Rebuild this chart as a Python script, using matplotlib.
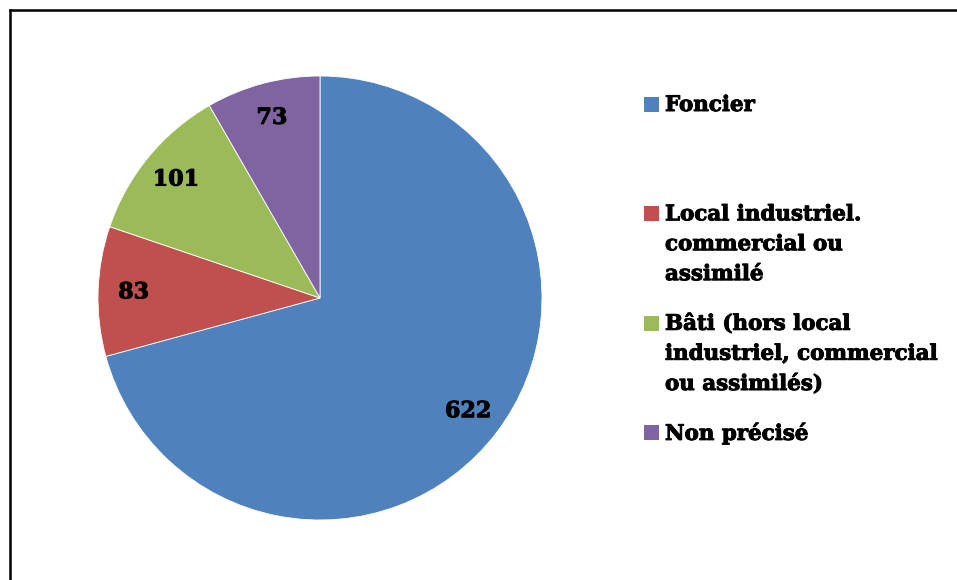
import matplotlib
matplotlib.use("Agg")
import matplotlib.pyplot as plt
from matplotlib.patches import Rectangle
from matplotlib.lines import Line2D
import matplotlib.patheffects as pe

categories = [
    "Foncier",
    "Local industriel.\ncommercial ou\nassimilé",
    "Bâti (hors local\nindustriel, commercial\nou assimilés)",
    "Non précisé",
]
values = [622, 83, 101, 73]
colors = ["#4F81BD", "#C0504D", "#9BBB59", "#8064A2"]

W, H = 957, 580
fig = plt.figure(figsize=(W / 100, H / 100), dpi=100)
fig.patch.set_facecolor("white")

font = dict(family="DejaVu Serif", weight="bold", color="black")
heavy = [pe.withStroke(linewidth=0.7, foreground="black")]

# Pie area: centre (320, 298) px, radius 222 px
cx, cy, r = 320, 298, 222
ax = fig.add_axes([(cx - r) / W, (H - cy - r) / H, 2 * r / W, 2 * r / H])
wedges, texts = ax.pie(
    values,
    colors=colors,
    startangle=90,
    counterclock=False,
    labels=[str(v) for v in values],
    labeldistance=0.84,
    wedgeprops=dict(edgecolor="white", linewidth=0.6),
    textprops=dict(fontsize=16, ha="center", va="center", **font),
)
for t in texts:
    t.set_path_effects(heavy)
ax.set_xlim(-1, 1)
ax.set_ylim(-1, 1)
ax.set_aspect("equal")
ax.axis("off")

# Legend drawn as squares with text, one entry every ~109 px
sq = 15
x_sq, x_txt = 644, 665
y0, step = 97, 109.3
for i, (lab, col) in enumerate(zip(categories, colors)):
    ytop = y0 + i * step
    fig.patches.append(Rectangle((x_sq / W, 1 - (ytop + sq) / H), sq / W, sq / H,
                                 transform=fig.transFigure, facecolor=col,
                                 edgecolor="none"))
    fig.text(x_txt / W, 1 - (ytop - 2) / H, lab, ha="left", va="top",
             fontsize=15.4, linespacing=1.62, path_effects=heavy, **font)

# Chart frame (top and left edges)
fig.add_artist(Line2D([9.8 / W, 1], [1 - 10 / H, 1 - 10 / H],
                      transform=fig.transFigure, color="black", lw=1.8))
fig.add_artist(Line2D([9.8 / W, 9.8 / W], [0, 1 - 10 / H],
                      transform=fig.transFigure, color="black", lw=1.8))

fig.savefig("out.png", dpi=100, facecolor="white")
